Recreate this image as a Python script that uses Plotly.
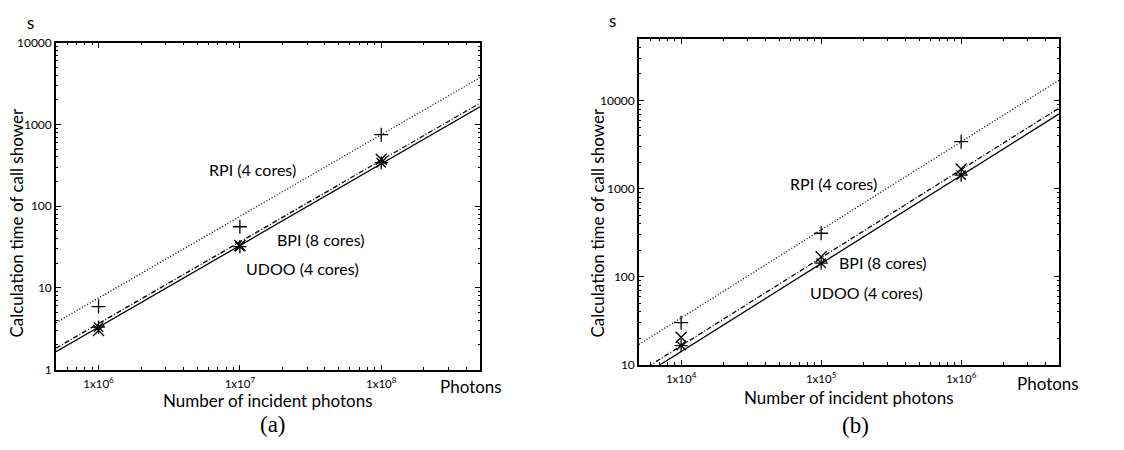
import math
import plotly.graph_objects as go

# ---------------- data ----------------
# panel (a)
a_photons = [1e6, 1e7, 1e8]
a_rpi = [5.9, 56, 750]
a_bpi = [3.0, 33, 375]
a_udoo = [3.3, 32, 340]
a_fit = {"RPI": 7.5e-6, "BPI": 3.65e-6, "UDOO": 3.3e-6}   # time = k * photons
a_xrange = [5e5, 5e8]
a_yrange = [1, 1e4]
a_xticks = [1e6, 1e7, 1e8]
a_xticktext = ["1x10<sup>6</sup>", "1x10<sup>7</sup>", "1x10<sup>8</sup>"]
a_yticks = [1, 10, 100, 1000, 10000]
a_yticktext = ["1", "10", "100", "1000", "10000"]

# panel (b)
b_photons = [1e4, 1e5, 1e6]
b_rpi = [30, 311, 3410]
b_bpi = [20.5, 168, 1670]
b_udoo = [16.5, 142, 1420]
b_fit = {"RPI": 3.4e-3, "BPI": 1.64e-3, "UDOO": 1.41e-3}
b_xrange = [5e3, 5e6]
b_yrange = [10, 5e4]
b_xticks = [1e4, 1e5, 1e6]
b_xticktext = ["1x10<sup>4</sup>", "1x10<sup>5</sup>", "1x10<sup>6</sup>"]
b_yticks = [10, 100, 1000, 10000]
b_yticktext = ["10", "100", "1000", "10000"]

labels = ["RPI (4 cores)", "BPI (8 cores)", "UDOO (4 cores)"]

W, H = 1124, 450
def px(x):
    return x / W
def py(y):
    return 1 - y / H

FONT = "Lato"
fig = go.Figure()

dash = {"RPI": "1px,2px", "BPI": "5px,2px,1px,2px", "UDOO": "solid"}
symbols = {"RPI": "cross-thin", "BPI": "x-thin", "UDOO": "asterisk"}


def minor_vals(lo, hi):
    vals = []
    for e in range(int(math.floor(math.log10(lo))), int(math.ceil(math.log10(hi))) + 1):
        for m in range(2, 10):
            v = m * 10 ** e
            if lo <= v <= hi:
                vals.append(v)
    return vals


def add_panel(xa, ya, photons, series, fit, xr):
    for name, vals in series.items():
        k = fit[name]
        fig.add_trace(go.Scatter(
            x=xr, y=[k * xr[0], k * xr[1]], mode="lines",
            line=dict(color="black", width=1.3, dash=dash[name]),
            xaxis=xa, yaxis=ya, showlegend=False, hoverinfo="skip"))
    for name, vals in series.items():
        fig.add_trace(go.Scatter(
            x=photons, y=vals, mode="markers",
            marker=dict(symbol=symbols[name], size=11 if name != "RPI" else 10,
                        color="black", line=dict(color="black", width=1.3)),
            xaxis=xa, yaxis=ya, showlegend=False))


add_panel("x", "y", a_photons, {"RPI": a_rpi, "BPI": a_bpi, "UDOO": a_udoo}, a_fit, a_xrange)
add_panel("x2", "y2", b_photons, {"RPI": b_rpi, "BPI": b_bpi, "UDOO": b_udoo}, b_fit, b_xrange)


def axis(rng, domain, tv, tt, anchor, fs, standoff):
    return dict(
        type="log", range=[math.log10(rng[0]), math.log10(rng[1])], domain=domain,
        anchor=anchor, tickmode="array", tickvals=tv, ticktext=tt,
        ticks="inside", ticklen=5, tickwidth=1, tickcolor="black",
        showline=True, linecolor="black", linewidth=1.6, mirror="allticks",
        showgrid=False, zeroline=False, ticklabelstandoff=standoff,
        tickfont=dict(family=FONT, size=fs, color="black"),
        minor=dict(ticks="inside", ticklen=2.5, tickwidth=1, tickcolor="black",
                   tickvals=minor_vals(rng[0], rng[1]), showgrid=False),
    )


fig.update_layout(
    width=W, height=H, margin=dict(l=0, r=0, t=0, b=0),
    paper_bgcolor="white", plot_bgcolor="white",
    xaxis=axis(a_xrange, [px(56), px(480)], a_xticks, a_xticktext, "y", 11.5, 3),
    yaxis=axis(a_yrange, [py(374), py(36)], a_yticks, a_yticktext, "x", 12, 0),
    xaxis2=axis(b_xrange, [px(639), px(1059)], b_xticks, b_xticktext, "y2", 11.5, 3),
    yaxis2=axis(b_yrange, [py(369), py(32)], b_yticks, b_yticktext, "x2", 12, 0),
)

ann = []
def t(x, y, text, size=16, family=FONT, angle=0):
    ann.append(dict(x=px(x), y=py(y), xref="paper", yref="paper", text=text,
                    showarrow=False, xanchor="center", yanchor="middle", textangle=angle,
                    font=dict(family=family, size=size, color="black")))

# panel (a) texts
t(252, 167, labels[0])
t(321, 239, labels[1])
t(302, 269, labels[2])
t(30, 15, "s", 17)
t(17, 223, "Calculation time of call shower", 17, angle=-90)
t(471, 392, "Photons", 17)
t(268, 406, "Number of incident photons", 17)
t(273, 431, "(a)", 23, "Liberation Serif")

# panel (b) texts
t(833, 182, labels[0])
t(883, 263, labels[1])
t(866, 294, labels[2])
t(612, 13, "s", 17)
t(598, 223, "Calculation time of call shower", 17, angle=-90)
t(1048, 388, "Photons", 17)
t(849, 403, "Number of incident photons", 17)
t(855, 432, "(b)", 23, "Liberation Serif")

fig.update_layout(annotations=ann)
fig.write_html("out.html")
